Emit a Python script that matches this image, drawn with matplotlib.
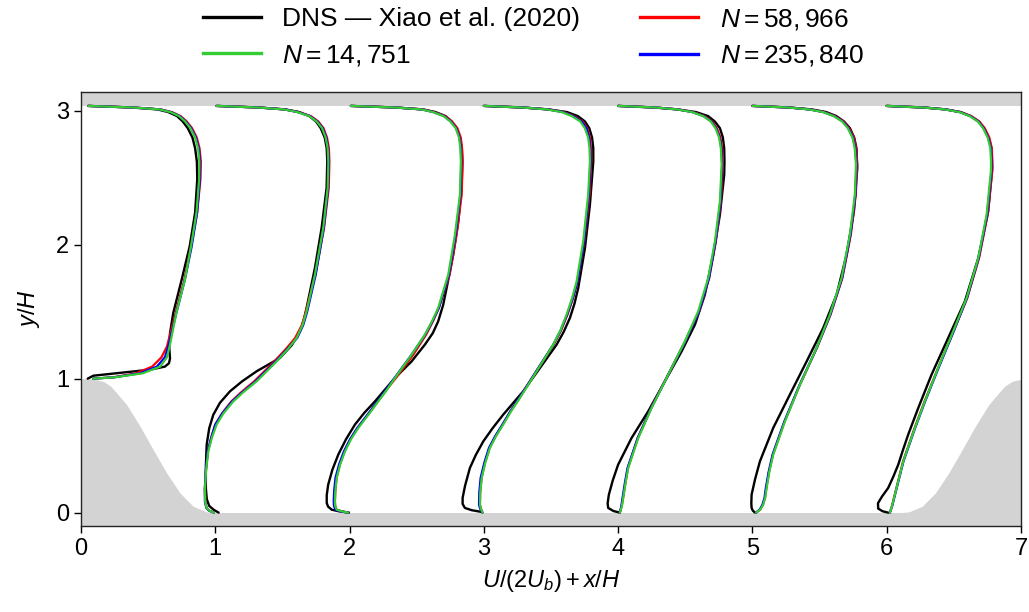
import matplotlib
matplotlib.use("Agg")
import matplotlib.pyplot as plt
from matplotlib.lines import Line2D

plt.rcParams['font.family'] = ['Liberation Sans', 'DejaVu Sans']
plt.rcParams['mathtext.fontset'] = 'custom'
plt.rcParams['mathtext.rm'] = 'Liberation Sans'
plt.rcParams['mathtext.it'] = 'Liberation Sans:italic'
plt.rcParams['mathtext.bf'] = 'Liberation Sans:bold'

# ---------------- data ----------------
stations = [0.05, 1.0, 2.0, 3.0, 4.0, 5.0, 6.0]
top_wall = 3.036
domain_length = 7.1

hill_x = [0.0, 0.05, 0.1, 0.166, 0.22, 0.266, 0.34, 0.44, 0.538, 0.638, 0.737, 0.836, 0.936, 1.0]
hill_y = [1.0, 1.0, 0.995, 0.98, 0.945, 0.893, 0.806, 0.644, 0.47, 0.296, 0.147, 0.047, 0.005, 0.0]

# shared y levels of the upper-wall part of every profile
top_y = [2.72, 2.80, 2.87, 2.92, 2.96, 2.99, 3.01, 3.024, 3.036]

# ---- DNS (black) ----
dns_y = [
    [1.0, 1.022, 1.067, 1.09, 1.115, 1.15, 1.241, 1.34, 1.49, 1.74, 1.99, 2.24, 2.49, 2.62],
    [0.0, 0.02, 0.05, 0.1, 0.18, 0.35, 0.507, 0.63, 0.73, 0.82, 0.905, 0.98, 1.055, 1.155, 1.25, 1.353, 1.44, 1.528, 1.826, 2.125, 2.423, 2.622],
    [0.0, 0.01, 0.022, 0.045, 0.072, 0.13, 0.209, 0.32, 0.433, 0.55, 0.657, 0.745, 0.83, 0.92, 1.005, 1.129, 1.254, 1.34, 1.428, 1.55, 1.677, 1.925, 2.174, 2.448, 2.62],
    [0.005, 0.018, 0.035, 0.065, 0.11, 0.2, 0.333, 0.43, 0.532, 0.63, 0.731, 0.82, 0.905, 1.08, 1.254, 1.35, 1.453, 1.56, 1.677, 1.975, 2.299, 2.62],
    [0.0, 0.012, 0.035, 0.07, 0.134, 0.24, 0.358, 0.557, 0.756, 0.98, 1.204, 1.403, 1.627, 1.925, 2.224, 2.522, 2.62],
    [0.0, 0.015, 0.035, 0.07, 0.134, 0.25, 0.383, 0.632, 0.881, 1.129, 1.378, 1.627, 1.925, 2.249, 2.572],
    [0.0, 0.01, 0.03, 0.07, 0.12, 0.184, 0.27, 0.358, 0.47, 0.582, 0.781, 1.03, 1.304, 1.577, 1.9, 2.249, 2.572],
]
dns_u = [
    [0.0, 0.042, 0.464, 0.575, 0.605, 0.613, 0.607, 0.613, 0.637, 0.70, 0.76, 0.80, 0.816, 0.813],
    [0.025, -0.01, -0.045, -0.063, -0.07, -0.07, -0.064, -0.045, -0.015, 0.035, 0.109, 0.2, 0.308, 0.482, 0.57, 0.63, 0.66, 0.68, 0.742, 0.792, 0.829, 0.834],
    [-0.004, -0.08, -0.133, -0.16, -0.17, -0.17, -0.159, -0.128, -0.084, -0.025, 0.04, 0.11, 0.189, 0.265, 0.338, 0.462, 0.561, 0.62, 0.66, 0.697, 0.723, 0.772, 0.81, 0.835, 0.84],
    [-0.016, -0.09, -0.141, -0.158, -0.158, -0.14, -0.104, -0.06, -0.004, 0.065, 0.144, 0.22, 0.293, 0.418, 0.542, 0.595, 0.641, 0.675, 0.703, 0.753, 0.79, 0.815],
    [0.013, -0.035, -0.074, -0.078, -0.069, -0.04, 0.0, 0.1, 0.224, 0.348, 0.473, 0.572, 0.646, 0.708, 0.758, 0.79, 0.792],
    [0.019, 0.003, -0.006, -0.008, -0.006, 0.02, 0.056, 0.155, 0.279, 0.404, 0.527, 0.627, 0.701, 0.756, 0.781],
    [0.011, -0.03, -0.063, -0.065, -0.035, 0.011, 0.05, 0.086, 0.122, 0.16, 0.235, 0.334, 0.458, 0.582, 0.682, 0.756, 0.786],
]
dns_top_u = [
    [0.80, 0.78, 0.745, 0.708, 0.665, 0.60, 0.52, 0.33, 0.004],
    [0.830, 0.815, 0.785, 0.75, 0.70, 0.625, 0.52, 0.33, 0.01],
    [0.836, 0.822, 0.797, 0.76, 0.715, 0.64, 0.545, 0.35, 0.01],
    [0.815, 0.806, 0.785, 0.753, 0.70, 0.62, 0.48, 0.29, 0.0],
    [0.79, 0.78, 0.758, 0.72, 0.67, 0.58, 0.44, 0.27, 0.0],
    [0.775, 0.758, 0.726, 0.682, 0.625, 0.55, 0.44, 0.28, 0.0],
    [0.78, 0.76, 0.725, 0.685, 0.625, 0.55, 0.44, 0.28, 0.0],
]

# ---- simulations: shared lower y per station ----
sim_y = [
    [1.0, 1.01, 1.04, 1.09, 1.16, 1.24, 1.49, 1.74, 1.99, 2.24, 2.49, 2.62],
    [0.0, 0.015, 0.035, 0.08, 0.18, 0.32, 0.457, 0.56, 0.657, 0.74, 0.83, 0.9, 0.98, 1.129, 1.22, 1.304, 1.40, 1.502, 1.776, 2.125, 2.423, 2.622],
    [0.0, 0.01, 0.022, 0.05, 0.084, 0.16, 0.259, 0.36, 0.457, 0.55, 0.632, 0.73, 0.83, 0.92, 1.005, 1.179, 1.328, 1.43, 1.528, 1.776, 2.075, 2.373, 2.62],
    [0.0, 0.03, 0.06, 0.15, 0.259, 0.37, 0.483, 0.57, 0.657, 0.76, 0.856, 1.055, 1.254, 1.36, 1.478, 1.6, 1.726, 2.025, 2.373, 2.62],
    [0.0, 0.05, 0.11, 0.22, 0.333, 0.557, 0.781, 1.03, 1.278, 1.502, 1.751, 2.025, 2.323, 2.6],
    [0.0, 0.025, 0.06, 0.11, 0.184, 0.3, 0.433, 0.681, 0.955, 1.229, 1.478, 1.751, 2.075, 2.373, 2.6],
    [0.0, 0.05, 0.134, 0.383, 0.632, 0.83, 1.08, 1.353, 1.602, 1.9, 2.224, 2.547, 2.62],
]
n14751_u = [
    [0.04, 0.2, 0.41, 0.54, 0.59, 0.61, 0.66, 0.724, 0.77, 0.81, 0.83, 0.832],
    [-0.01, -0.045, -0.064, -0.075, -0.077, -0.068, -0.052, -0.025, 0.01, 0.06, 0.134, 0.21, 0.308, 0.457, 0.54, 0.606, 0.65, 0.68, 0.742, 0.804, 0.837, 0.842],
    [-0.01, -0.06, -0.096, -0.107, -0.109, -0.106, -0.096, -0.07, -0.034, 0.012, 0.065, 0.14, 0.214, 0.28, 0.338, 0.462, 0.561, 0.615, 0.66, 0.735, 0.785, 0.822, 0.829],
    [-0.01, -0.022, -0.029, -0.027, -0.016, 0.01, 0.045, 0.09, 0.144, 0.205, 0.269, 0.393, 0.517, 0.57, 0.616, 0.657, 0.691, 0.74, 0.777, 0.79],
    [0.013, 0.028, 0.038, 0.055, 0.075, 0.15, 0.249, 0.373, 0.497, 0.596, 0.671, 0.721, 0.758, 0.771],
    [0.028, 0.06, 0.08, 0.095, 0.106, 0.125, 0.155, 0.242, 0.354, 0.478, 0.577, 0.664, 0.726, 0.763, 0.771],
    [0.024, 0.04, 0.061, 0.123, 0.21, 0.284, 0.383, 0.495, 0.595, 0.682, 0.744, 0.776, 0.777],
]
n14751_top_u = [
    [0.822, 0.80, 0.765, 0.725, 0.68, 0.615, 0.535, 0.34, 0.004],
    [0.837, 0.822, 0.795, 0.755, 0.70, 0.61, 0.51, 0.32, 0.01],
    [0.825, 0.815, 0.79, 0.75, 0.70, 0.62, 0.535, 0.34, 0.01],
    [0.787, 0.777, 0.752, 0.718, 0.655, 0.58, 0.47, 0.29, 0.0],
    [0.765, 0.752, 0.725, 0.69, 0.633, 0.55, 0.44, 0.28, 0.0],
    [0.762, 0.745, 0.71, 0.668, 0.605, 0.525, 0.42, 0.27, 0.0],
    [0.772, 0.752, 0.718, 0.678, 0.618, 0.54, 0.43, 0.275, 0.0],
]
n58966_u = [
    [0.04, 0.19, 0.36, 0.48, 0.55, 0.59, 0.655, 0.72, 0.77, 0.815, 0.84, 0.843],
    [-0.01, -0.045, -0.064, -0.075, -0.077, -0.069, -0.055, -0.03, 0.0, 0.05, 0.12, 0.195, 0.29, 0.44, 0.525, 0.595, 0.645, 0.675, 0.745, 0.81, 0.845, 0.85],
    [-0.01, -0.06, -0.096, -0.107, -0.109, -0.106, -0.097, -0.072, -0.038, 0.007, 0.06, 0.135, 0.21, 0.278, 0.345, 0.475, 0.57, 0.622, 0.665, 0.745, 0.797, 0.835, 0.842],
    [-0.01, -0.022, -0.029, -0.027, -0.017, 0.008, 0.043, 0.087, 0.14, 0.2, 0.265, 0.39, 0.52, 0.575, 0.623, 0.664, 0.698, 0.748, 0.787, 0.80],
    [0.013, 0.027, 0.037, 0.054, 0.073, 0.146, 0.246, 0.372, 0.50, 0.603, 0.678, 0.728, 0.765, 0.78],
    [0.028, 0.06, 0.079, 0.094, 0.104, 0.123, 0.153, 0.24, 0.354, 0.48, 0.582, 0.67, 0.733, 0.77, 0.78],
    [0.024, 0.04, 0.06, 0.122, 0.208, 0.282, 0.383, 0.497, 0.6, 0.688, 0.752, 0.786, 0.787],
]
n58966_top_u = [
    [0.833, 0.812, 0.777, 0.737, 0.692, 0.627, 0.545, 0.35, 0.004],
    [0.846, 0.832, 0.806, 0.767, 0.712, 0.62, 0.52, 0.33, 0.01],
    [0.838, 0.828, 0.803, 0.763, 0.713, 0.633, 0.548, 0.35, 0.01],
    [0.798, 0.79, 0.77, 0.735, 0.672, 0.595, 0.485, 0.3, 0.0],
    [0.775, 0.762, 0.735, 0.70, 0.643, 0.56, 0.45, 0.285, 0.0],
    [0.772, 0.756, 0.72, 0.678, 0.615, 0.535, 0.43, 0.275, 0.0],
    [0.783, 0.764, 0.73, 0.69, 0.63, 0.55, 0.44, 0.28, 0.0],
]
n235840_u = [
    [0.04, 0.195, 0.39, 0.515, 0.575, 0.60, 0.66, 0.724, 0.775, 0.815, 0.835, 0.837],
    [-0.01, -0.047, -0.066, -0.077, -0.078, -0.07, -0.056, -0.03, 0.0, 0.052, 0.125, 0.203, 0.30, 0.45, 0.535, 0.61, 0.655, 0.685, 0.748, 0.808, 0.84, 0.845],
    [-0.01, -0.068, -0.105, -0.116, -0.118, -0.115, -0.105, -0.078, -0.042, 0.005, 0.058, 0.133, 0.208, 0.274, 0.335, 0.462, 0.563, 0.618, 0.665, 0.74, 0.79, 0.826, 0.832],
    [-0.01, -0.028, -0.036, -0.034, -0.024, 0.003, 0.038, 0.084, 0.138, 0.2, 0.264, 0.39, 0.517, 0.572, 0.62, 0.662, 0.697, 0.746, 0.782, 0.795],
    [0.013, 0.024, 0.033, 0.05, 0.07, 0.146, 0.247, 0.373, 0.50, 0.602, 0.677, 0.726, 0.762, 0.775],
    [0.028, 0.056, 0.075, 0.09, 0.10, 0.12, 0.15, 0.238, 0.352, 0.479, 0.58, 0.668, 0.73, 0.767, 0.775],
    [0.024, 0.041, 0.062, 0.125, 0.212, 0.286, 0.386, 0.499, 0.598, 0.685, 0.748, 0.78, 0.781],
]
n235840_top_u = [
    [0.827, 0.805, 0.77, 0.73, 0.685, 0.62, 0.54, 0.345, 0.004],
    [0.840, 0.826, 0.80, 0.76, 0.705, 0.615, 0.515, 0.325, 0.01],
    [0.829, 0.819, 0.794, 0.754, 0.704, 0.624, 0.539, 0.343, 0.01],
    [0.792, 0.784, 0.764, 0.728, 0.665, 0.588, 0.478, 0.295, 0.0],
    [0.769, 0.756, 0.729, 0.694, 0.637, 0.554, 0.444, 0.282, 0.0],
    [0.766, 0.749, 0.714, 0.672, 0.609, 0.529, 0.424, 0.272, 0.0],
    [0.776, 0.756, 0.722, 0.682, 0.622, 0.545, 0.435, 0.277, 0.0],
]

labels = ['DNS — Xiao et al. (2020)', r'$N = 14,751$', r'$N = 58,966$', r'$N = 235,840$']
colors = {'dns': 'black', 'n14751': '#33cc33', 'n58966': '#ff0000', 'n235840': '#0000ff'}

# ---------------- plot ----------------
fig = plt.figure(figsize=(10.29, 6.12), dpi=100)
ax = fig.add_axes([0.0787, 0.1405, 0.9135, 0.7092])
ymin, ymax = -0.1, 3.14
ax.set_xlim(0, 7)
ax.set_ylim(ymin, ymax)

gray = '#d3d3d3'
ax.fill_between(hill_x, ymin, hill_y, color=gray, lw=0, zorder=0)
ax.fill_between([domain_length - v for v in hill_x], ymin, hill_y, color=gray, lw=0, zorder=0)
ax.fill_between([0, 7], ymin, 0.0, color=gray, lw=0, zorder=0)
ax.fill_between([0, 7], top_wall, ymax, color=gray, lw=0, zorder=0)


def draw(x0, ylow, ulow, utop, color, lw, z):
    ys = ylow + top_y
    xs = [x0 + u for u in ulow + utop]
    ax.plot(xs, ys, color=color, lw=lw, zorder=z, solid_joinstyle='round', solid_capstyle='round')


for i, x0 in enumerate(stations):
    draw(x0, dns_y[i], dns_u[i], dns_top_u[i], colors['dns'], 1.7, 2)
    draw(x0, sim_y[i], n58966_u[i], n58966_top_u[i], colors['n58966'], 1.6, 3)
    draw(x0, sim_y[i], n235840_u[i], n235840_top_u[i], colors['n235840'], 1.6, 4)
    draw(x0, sim_y[i], n14751_u[i], n14751_top_u[i], colors['n14751'], 1.6, 5)

ax.set_xticks(range(0, 8))
ax.set_yticks(range(0, 4))
ax.tick_params(labelsize=17, length=5, width=1, direction='out')
ax.set_xlabel(r'$U/(2U_b) + x/H$', fontsize=17, labelpad=6)
ax.set_ylabel(r'$y/H$', fontsize=17, labelpad=10)
for s in ax.spines.values():
    s.set_linewidth(1.0)
    s.set_color('#222222')

handles = [Line2D([], [], color=colors['dns'], lw=2.4),
           Line2D([], [], color=colors['n14751'], lw=2.4),
           Line2D([], [], color=colors['n58966'], lw=2.4),
           Line2D([], [], color=colors['n235840'], lw=2.4)]
fig.legend(handles, labels, loc='upper center', bbox_to_anchor=(0.518, 1.028), ncol=2,
           frameon=False, fontsize=19, handlelength=2.2, handletextpad=0.8,
           columnspacing=2.3, labelspacing=0.45)

fig.savefig('out.png', dpi=100)
